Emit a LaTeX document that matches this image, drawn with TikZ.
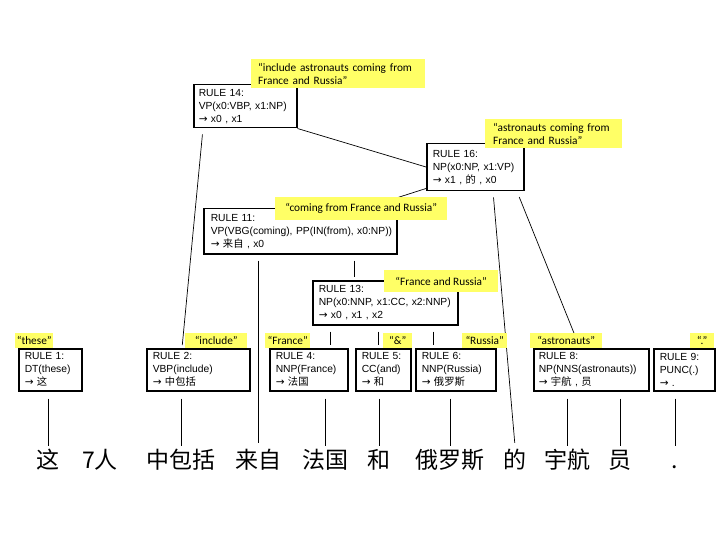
\documentclass[tikz,border=0pt]{standalone}
\usepackage{fontspec}
\setmainfont{Liberation Sans}
\newfontfamily\cjk{Noto Sans CJK SC}
\newfontfamily\labfnt{Carlito}
\newfontfamily\symfnt{DejaVu Sans}
\usetikzlibrary{calc}
\definecolor{labyellow}{RGB}{255,255,102}
\newcommand{\myarr}{{\symfnt\fontsize{10.5}{13}\selectfont →}}
\tikzset{
 rbox/.style n args={3}{draw, line width=1.5pt, fill=white, anchor=north west,
   minimum width=#1pt, minimum height=#2pt, text width=#3pt, inner xsep=5pt,
   inner ysep=0pt, align=left, font=\fontsize{10.3}{13}\selectfont},
 lab/.style={fill=labyellow, anchor=north west, inner sep=0pt,
   font=\labfnt\fontsize{11.3}{13}\selectfont},
 word/.style={anchor=base, inner sep=0pt, text height=22pt, text depth=2pt,
   font=\cjk\fontsize{23}{23}\selectfont},
 conn/.style={line width=0.7pt, shorten <=6pt, shorten >=3pt},
 conn0/.style={line width=0.7pt},
 connb/.style={line width=0.7pt, shorten <=7pt},
}
\begin{document}
\begin{tikzpicture}[x=1pt,y=-1pt]
\useasboundingbox[fill=white] (0,0) rectangle (720,540);

% words
\node[word] (w1) at (48,468) {这};
\node[word] (w2) at (100,468) {7人};
\node[word] (w3) at (181,468) {中包括};
\node[word] (w4) at (258,468) {来自};
\node[word] (w5) at (325,468) {法国};
\node[word] (w6) at (379,468) {和};
\node[word] (w7) at (450,468) {俄罗斯};
\node[word] (w8) at (515,468) {的};
\node[word] (w9) at (567,468) {宇航};
\node[word] (w10) at (620,468) {员};
\node[word] (w11) at (675,468) {.};

% rule boxes
\node[rbox={103}{43}{93}] (r14) at (193,84) {RULE 14:\\VP(x0:VBP, x1:NP)\\\myarr\ x0 , x1};
\node[rbox={97}{47}{85}, inner xsep=6pt] (r16) at (426,143) {RULE 16:\\NP(x0:NP, x1:VP)\\\myarr\ x1 , {\cjk 的} , x0};
\node[rbox={193}{45}{187}, inner xsep=3pt] (r11) at (203,208) {\hspace*{4pt}RULE 11:\\\hspace*{4pt}VP(VBG(coming), PP(IN(from), x0:NP))\\\hspace*{4pt}\myarr\ {\cjk 来自} , x0};
\node[rbox={145}{44}{133}, inner xsep=6pt] (r13) at (312,280) {RULE 13:\\NP(x0:NNP, x1:CC, x2:NNP)\\\myarr\ x0 , x1 , x2};
\node[rbox={63}{42}{51}, inner xsep=6pt] (r1) at (18,348) {RULE 1:\\DT(these)\\\myarr\ {\cjk 这}};
\node[rbox={103}{42}{91}, inner xsep=6pt] (r2) at (146,348) {RULE 2:\\VBP(include)\\\myarr\ {\cjk 中包括}};
\node[rbox={78}{42}{66}, inner xsep=6pt] (r4) at (269,348) {RULE 4:\\NNP(France)\\\myarr\ {\cjk 法国}};
\node[rbox={55}{42}{43}, inner xsep=6pt] (r5) at (355,348) {RULE 5:\\CC(and)\\\myarr\ {\cjk 和}};
\node[rbox={80}{42}{68}, inner xsep=6pt] (r6) at (415,348) {RULE 6:\\NNP(Russia)\\\myarr\ {\cjk 俄罗斯}};
\node[rbox={115}{42}{105}] (r8) at (533,348) {RULE 8:\\NP(NNS(astronauts))\\\myarr\ {\cjk 宇航} , {\cjk 员}};
\node[rbox={61}{42}{49}, inner xsep=6pt] (r9) at (653,348) {RULE 9:\\PUNC(.)\\\myarr\ .};

% connectors
\draw[conn] ($(r14.south west)+(10,0)$) -- ($(r2.north west)+(36,0)$);
\draw[conn0] (r14.south east) -- ($(r16.north west)+(0,24)$);
\draw[conn0] ($(r16.south west)+(0,-3)$) -- ($(r11.north west)+(162,0)$);
\draw[conn] ($(r16.south west)+(67,0)$) -- (w8.north);
\draw[conn] ($(r16.south west)+(91,0)$) -- ($(r8.north west)+(47,0)$);
\draw[conn] (r11.south -| w4.north) -- (w4.north);
\draw[conn] ($(r11.south west)+(151,0)$) -- ($(r13.north west)+(42,0)$);
\draw[conn] ($(r13.south west)+(18,0)$) -- ($(r4.north west)+(61,0)$);
\draw[conn] ($(r13.south west)+(66,0)$) -- ($(r5.north west)+(23,0)$);
\draw[conn] ($(r13.south west)+(121,0)$) -- ($(r6.north west)+(18,0)$);
\draw[connb] (r1.south -| w1.north) -- (w1.north);
\draw[connb] (r2.south -| w3.north) -- (w3.north);
\draw[connb] (r4.south -| w5.north) -- (w5.north);
\draw[connb] (r5.south -| w6.north) -- (w6.north);
\draw[connb] (r6.south -| w7.north) -- (w7.north);
\draw[connb] (r8.south -| w9.north) -- (w9.north);
\draw[connb] (r8.south -| w10.north) -- (w10.north);
\draw[connb] (r9.south -| w11.north) -- (w11.north);

% yellow labels
\node[lab, minimum width=174pt, minimum height=29pt, text width=160pt, inner xsep=7pt, align=left] (l14) at (251,59) {“include astronauts coming from\\France and Russia”};
\node[lab, minimum width=137pt, minimum height=29pt, text width=121pt, inner xsep=8pt, align=left] (l16) at (485,119) {“astronauts coming from\\France and Russia”};
\node[lab, minimum width=172pt, minimum height=23pt] (l11) at (275,197) {“coming from France and Russia”};
\node[lab, minimum width=114pt, minimum height=22pt] (l13) at (384,270) {“France and Russia”};
\node[lab, minimum width=38pt, minimum height=15pt] (l1) at (15,333) {“these”};
\node[lab, minimum width=62pt, minimum height=15pt] (l2) at (185,333) {“include”};
\node[lab, minimum width=45pt, minimum height=15pt] (l4) at (265,333) {“France”};
\node[lab, minimum width=29pt, minimum height=15pt] (l5) at (383,333) {“\&”};
\node[lab, minimum width=45pt, minimum height=15pt] (l6) at (462,333) {“Russia”};
\node[lab, minimum width=72pt, minimum height=15pt] (l8) at (530,333) {“astronauts”};
\node[lab, minimum width=24pt, minimum height=15pt] (l9) at (690,333) {“.”};
\end{tikzpicture}
\end{document}
